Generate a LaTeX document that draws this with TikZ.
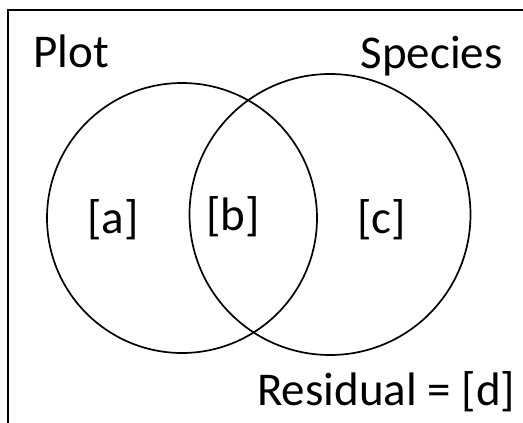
\documentclass[tikz,border=0pt]{standalone}
\usepackage{fontspec}
\setmainfont{Carlito}
\usepackage{tikz}
\usetikzlibrary{positioning,calc}

\begin{document}
\begin{tikzpicture}[x=1pt,y=-1pt,
    lbl/.style={inner sep=0pt,font=\fontsize{47}{56}\selectfont},
    ring/.style={line width=1.7pt}]
  \useasboundingbox (0,0) rectangle (523,423);
  \draw[line width=2pt] (7.5,423) -- (7.5,9.5) -- (523,9.5);
  \draw[ring] (182,218) circle (135);
  \draw[ring] (330,214.5) circle (140.5);
  \node[lbl,anchor=base west] (plot) at (33,67) {Plot};
  \node[lbl,anchor=base east] (species) at (503,68) {Species};
  \node[lbl,anchor=base west] (a) at (87,233) {[a]};
  \node[lbl,anchor=base west] (b) at (206,230) {[b]};
  \node[lbl,anchor=base west] (c) at (357,233) {[c]};
  \node[lbl,anchor=base west] (d) at (257,405) {Residual = [d]};
\end{tikzpicture}
\end{document}
